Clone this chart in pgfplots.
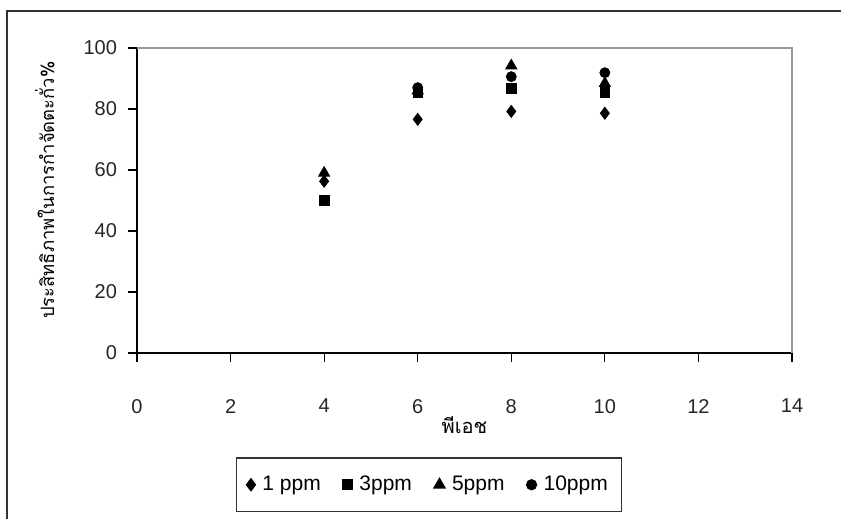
\documentclass[border=0pt]{standalone}
\usepackage{pgfplots}
\pgfplotsset{compat=1.18}
\usepackage{fontspec}
\setmainfont{Liberation Sans}
\newfontfamily\thaifont[Script=Thai]{Loma}

% removal efficiency (%) against pH for four initial concentrations
\pgfplotstableread{
ph  eff
4   56.3
6   76.6
8   79.2
10  78.6
}\oneppm
\pgfplotstableread{
ph  eff
4   50.0
6   85.5
8   86.8
10  85.5
}\threeppm
\pgfplotstableread{
ph  eff
4   59.0
6   86.0
8   94.2
10  88.4
}\fiveppm
\pgfplotstableread{
ph  eff
6   87.0
8   90.6
10  91.9
}\tenppm

\begin{document}
\begin{tikzpicture}
\useasboundingbox (0,0) rectangle (420.5pt,259.5pt);
% chart frame
\draw[black!80, line width=1pt] (3.5pt,0) -- (3.5pt,254pt) -- (420.5pt,254pt);
\begin{axis}[
  at={(68.5pt,83pt)}, anchor=south west,
  scale only axis, width=327.5pt, height=152.5pt,
  xmin=0, xmax=14, ymin=0, ymax=100,
  xtick={0,2,...,14}, ytick={0,20,...,100},
  axis lines*=left,
  axis line style={black, line width=0.8pt},
  tick align=outside, major tick length=4.5pt,
  tick style={black, line width=0.6pt},
  /pgf/number format/assume math mode=true,
  ticklabel style={font=\fontsize{10}{12}\selectfont, text=black!85},
  xticklabel style={yshift=-15pt},
  yticklabel style={xshift=-2pt},
  xlabel={\thaifont พีเอช},
  ylabel={\thaifont ประสิทธิภาพในการกำจัดตะกั่ว\%},
  every axis x label/.style={at={(rel axis cs:0.5,-0.235)}, anchor=center, font=\fontsize{10}{12}\selectfont},
  every axis y label/.style={at={(rel axis cs:-0.1405,0.534)}, rotate=90, anchor=center, font=\fontsize{9.2}{11}\selectfont},
  legend columns=4,
  legend style={at={(rel axis cs:0.446,-0.432)}, anchor=center,
    draw=black!80, line width=0.6pt, font=\fontsize{10.5}{12}\selectfont,
    inner xsep=5pt, inner ysep=7pt,
    /tikz/every odd column/.append style={column sep=1.5pt},
    /tikz/every even column/.append style={column sep=9pt}},
  legend cell align=left,
  clip=false,
]
\draw[gray!80, line width=1.1pt] (rel axis cs:0,1) -- (rel axis cs:1,1) -- (rel axis cs:1,0);
\addplot[only marks, mark=diamond*, mark size=3pt, black] table[x=ph, y=eff] {\oneppm};
\addlegendentry{1 ppm}
\addplot[only marks, mark=square*, mark size=2.4pt, black] table[x=ph, y=eff] {\threeppm};
\addlegendentry{3ppm}
\addplot[only marks, mark=triangle*, mark size=3.2pt, black] table[x=ph, y=eff] {\fiveppm};
\addlegendentry{5ppm}
\addplot[only marks, mark=*, mark size=2.5pt, black] table[x=ph, y=eff] {\tenppm};
\addlegendentry{10ppm}
\end{axis}
\end{tikzpicture}
\end{document}
